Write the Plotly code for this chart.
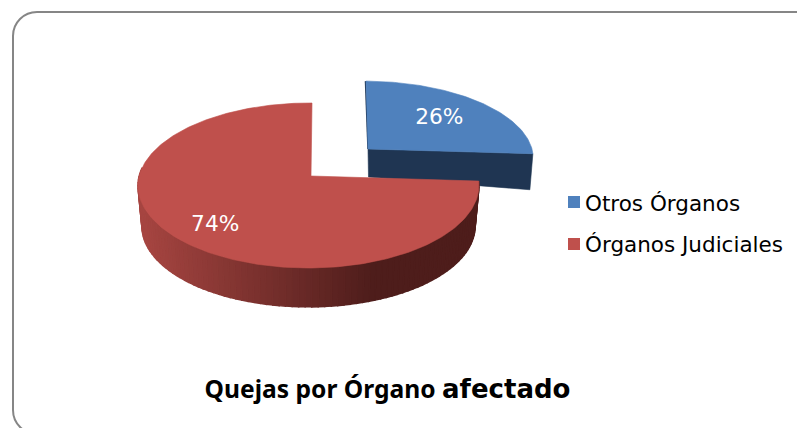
import math
import plotly.graph_objects as go

# ---- data -------------------------------------------------------------
categories = ["Otros Órganos", "Órganos Judiciales"]
percent_values = [26, 74]
title_main = "Quejas por Órgano"
title_tail = "afectado"

# ---- style / geometry (pixel space of a 797x428 figure) ----------------
W, H = 797, 428
top_colors = ["#4F81BD", "#BF504C"]
wall_blue = "#1F3552"
grad_left, grad_right = (166, 69, 65), (78, 29, 27)
FONT = "DejaVu Sans, Verdana, sans-serif"
K, M = 0.115, 0.0147      # perspective terms
RX, RY = 169.3, 81.4      # unrotated ellipse radii

slices = [
    dict(ax=368, ay=149, sx=0.983, sy=0.93, shear=-2, label_r=0.60, nudge=(3, -1)),
    dict(ax=311, ay=176, sx=1.0, sy=1.0, shear=1, label_r=0.74, nudge=(2, 5)),
]
marker_x, marker_rows = 574, [202, 244]
text_x, text_rows = 585, [205.5, 247]


def project(theta, r=1.0):
    """Unit-disc polar angle (clockwise from 12 o'clock) to a perspective offset."""
    u, p = r * math.sin(theta), r * math.cos(theta)
    d = 1 + K * p + M * u
    return RX * u / d, -RY * p / d, p


def top_point(s, theta, r=1.0):
    dx, dy, p = project(theta, r)
    return s["ax"] + s["sx"] * dx + s["shear"] * max(p, 0), s["ay"] + s["sy"] * dy


def arc_angles(a0, a1, step=1.0):
    n = max(2, int(abs(a1 - a0) / math.radians(step)))
    return [a0 + (a1 - a0) * i / n for i in range(n + 1)]


# slice angles follow from the values
total = sum(percent_values)
bounds = [0.0]
for v in percent_values:
    bounds.append(bounds[-1] + 2 * math.pi * v / total)

fig = go.Figure()


def poly(xs, ys, color, lw=0.6):
    fig.add_trace(go.Scatter(
        x=xs + xs[:1], y=ys + ys[:1], mode="lines", fill="toself", fillcolor=color,
        line=dict(color=color, width=lw), hoverinfo="skip", showlegend=False))


# --- blue slice: cut wall, then top face -------------------------------
b = slices[0]
a0, a1 = bounds[0], bounds[1]
ex, ey = top_point(b, a1)
poly([b["ax"], ex, ex - 3, b["ax"] + 0.5], [b["ay"], ey, ey + 36, b["ay"] + 28], wall_blue)
xs, ys = zip(*[top_point(b, t) for t in arc_angles(a0, a1)])
# thin dark edge along the left cut
sx0, sy0 = top_point(b, a0)
fig.add_trace(go.Scatter(x=[b["ax"], sx0 - 0.5], y=[b["ay"], sy0], mode="lines",
                         line=dict(color=wall_blue, width=1.5),
                         hoverinfo="skip", showlegend=False))
poly([b["ax"]] + list(xs), [b["ay"]] + list(ys), top_colors[0])

# --- red slice: shaded rim, then top face ------------------------------
s = slices[1]
a0, a1 = bounds[1], bounds[2]
DEPTH, SHRINK = 41, 0.977


def bottom_point(theta):
    dx, dy, _ = project(theta)
    return s["ax"] + SHRINK * dx, s["ay"] + DEPTH + SHRINK * dy


rim = arc_angles(a0, min(a1, math.radians(276)), 2.0)
for t0, t1 in zip(rim[:-1], rim[1:]):
    x0, y0 = top_point(s, t0)
    x1, y1 = top_point(s, t1)
    x2, y2 = bottom_point(t1)
    x3, y3 = bottom_point(t0)
    mid = (x0 + x1) / 2
    f = min(1.0, max(0.0, (mid - 142) / (372 - 142)))
    c = [round(grad_left[i] + (grad_right[i] - grad_left[i]) * f) for i in range(3)]
    poly([x0, x1, x2, x3], [y0, y1, y2, y3], f"rgb({c[0]},{c[1]},{c[2]})", lw=1.5)

xs, ys = zip(*[top_point(s, t) for t in arc_angles(a0, a1)])
poly([s["ax"]] + list(xs), [s["ay"]] + list(ys), top_colors[1])

# --- percentage labels --------------------------------------------------
for i, v in enumerate(percent_values):
    mid = (bounds[i] + bounds[i + 1]) / 2
    lx, ly = top_point(slices[i], mid, slices[i]["label_r"])
    fig.add_trace(go.Scatter(
        x=[lx + slices[i]["nudge"][0]], y=[ly + slices[i]["nudge"][1]], mode="text",
        text=[f"{v}%"], textposition="middle center",
        textfont=dict(family=FONT, size=21.7, color="white"),
        hoverinfo="skip", showlegend=False))

# --- legend entries -----------------------------------------------------
for name, color, mrow, trow in zip(categories, top_colors, marker_rows, text_rows):
    fig.add_trace(go.Scatter(
        x=[marker_x], y=[mrow], mode="markers", name=name,
        marker=dict(symbol="square", size=12, color=color, line=dict(width=0)),
        hoverinfo="name", showlegend=False))
    fig.add_trace(go.Scatter(
        x=[text_x], y=[trow], mode="text", text=[name], textposition="middle right",
        textfont=dict(family=FONT, size=21.5, color="#000000"),
        hoverinfo="skip", showlegend=False))

# --- rounded chart frame (runs off the right and bottom edges) ----------
frame = ("M 800 12 L 37 12 C 23.7 12 13 22.7 13 36 L 13 410 "
         "C 13 423.3 23.7 434 37 434 L 800 434")

fig.update_layout(
    width=W, height=H, margin=dict(l=0, r=0, t=0, b=0),
    paper_bgcolor="white", plot_bgcolor="white", showlegend=False,
    xaxis=dict(range=[0, W], visible=False, fixedrange=True),
    yaxis=dict(range=[H, 0], visible=False, fixedrange=True),
    shapes=[dict(type="path", path=frame, xref="x", yref="y",
                 line=dict(color="#868686", width=2), layer="below")],
    title=dict(
        text=(f'<b><span style="font-family:\'Noto Sans\';font-size:24.6px">{title_main} </span>'
              f'<span style="font-family:\'DejaVu Sans\';font-size:26px">{title_tail}</span></b>'),
        x=387.5 / W, xanchor="center", y=1 - 389.5 / H, yanchor="middle",
        font=dict(family=FONT, size=24, color="#000000")),
)

fig.write_html(
    "out.html",
    config=dict(displayModeBar=False),
    post_script="document.body.style.margin='0';document.body.style.overflow='hidden';",
)
